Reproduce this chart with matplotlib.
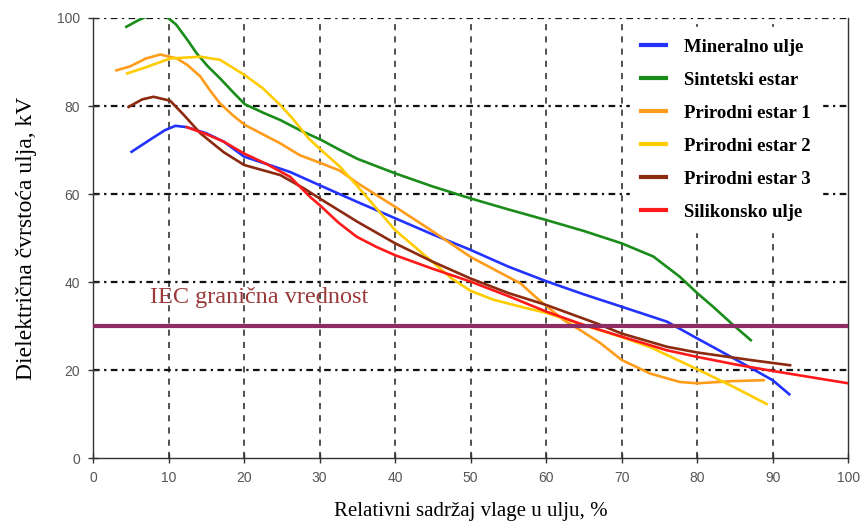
import matplotlib
matplotlib.use("Agg")
import matplotlib.pyplot as plt

# vlaga u ulju (%) i dielektricna cvrstoca (kV), ocitano sa slike
min_x = [5.1, 7.5, 9.5, 10.9, 12.4, 15, 17.3, 20, 23, 26.1, 30, 35, 40, 45, 50,
         55, 60, 65, 70, 76, 80, 84.8, 90, 92.2]
min_y = [69.6, 72.3, 74.5, 75.5, 75.2, 73.8, 71.9, 68.5, 66.8, 65, 62, 58.2, 54.5,
         50.8, 47.3, 43.5, 40.2, 37.2, 34.4, 31, 27.2, 22.7, 17.7, 14.5]

sin_x = [4.4, 6, 7.5, 9.5, 11, 12.5, 13.7, 15.2, 16.8, 18.5, 20.1, 22.5, 24.8, 27.4,
         30.2, 32.7, 35, 40, 45, 50, 55, 60, 65, 70, 74.2, 77.7, 80, 82.1, 84.8, 87.1]
sin_y = [98, 99.5, 100.6, 100.6, 98.5, 95, 92, 89, 86.3, 83.2, 80.4, 78.5, 76.8, 74.5,
         72.3, 70, 68, 64.7, 61.7, 59, 56.5, 54.1, 51.6, 48.8, 45.8, 41.2, 37.5, 34.4,
         30.2, 26.8]

pe1_x = [3.1, 4.9, 7, 8.9, 11.1, 12.5, 14.2, 15.5, 16.8, 18.5, 20.1, 24.8, 27.4, 30.2,
         32.7, 35, 40, 45, 50, 53.5, 56.6, 59, 62.3, 64.5, 67.2, 70, 73.8, 77.7, 80,
         84.8, 88.8]
pe1_y = [88.1, 89, 90.8, 91.7, 90.8, 89.3, 86.7, 83.5, 80.6, 77.9, 75.7, 71.5, 68.8, 67,
         65.3, 62.5, 57.1, 51.5, 45.7, 42.5, 39.7, 36, 31.4, 29.1, 26.1, 22.3, 19.2,
         17.3, 17, 17.5, 17.7]

pe2_x = [4.5, 7, 10.2, 14.2, 16.8, 20.1, 22.5, 24.8, 26.5, 28.5, 30.2, 32.7, 35.4, 40,
         45, 47.5, 50, 53, 56.6, 60, 65, 70, 73.8, 80, 84.8, 89.2]
pe2_y = [87.4, 88.8, 90.8, 91.2, 90.5, 87, 84, 80.2, 77, 72.7, 70, 66.2, 61, 51.8,
         44.5, 40.8, 38, 36, 34.4, 33, 30.2, 27.5, 25.2, 20.2, 16.2, 12.3]

pe3_x = [4.7, 6.5, 8, 10.2, 12, 14.2, 17.3, 20, 24.8, 27.9, 30, 35, 40, 45, 50, 55,
         60, 66.7, 70, 76, 80, 87, 92.3]
pe3_y = [79.8, 81.5, 82.1, 81.2, 78, 73.8, 69.5, 66.6, 64.3, 61.3, 59, 53.7, 48.8,
         44.6, 40.8, 37.5, 34.8, 30.6, 28.3, 25.3, 24, 22.3, 21.1]

sil_x = [12.4, 15, 17.3, 20, 23, 26.1, 28.7, 30, 32.5, 34.9, 37.5, 40, 45, 50, 55,
         60, 64.4, 70, 76, 80, 85, 90, 95, 100]
sil_y = [75.2, 73.6, 71.9, 69.2, 66.8, 63.9, 59.4, 57.5, 53.5, 50.3, 48, 46.1, 43,
         40.1, 36.8, 33.3, 30.6, 27.6, 24.5, 23, 21.3, 19.8, 18.4, 17]

iec_limit = 30
iec_label = "IEC granična vrednost"

series = [
    ("Mineralno ulje", min_x, min_y, "#2233ff"),
    ("Sintetski estar", sin_x, sin_y, "#1a8c1a"),
    ("Prirodni estar 1", pe1_x, pe1_y, "#ff9c1a"),
    ("Prirodni estar 2", pe2_x, pe2_y, "#ffcc00"),
    ("Prirodni estar 3", pe3_x, pe3_y, "#8b2a0e"),
    ("Silikonsko ulje", sil_x, sil_y, "#ff1a1a"),
]

serif = ["Liberation Serif", "DejaVu Serif"]
sans = ["Liberation Sans", "DejaVu Sans"]

fig = plt.figure(figsize=(8.62, 5.29), dpi=100)
ax = fig.add_axes([0.108, 0.134, 0.876, 0.832])

# mreza
for v in range(10, 100, 10):
    ax.axvline(v, color="#222222", lw=1.1, ls=(0, (4, 4)), zorder=1)
for v in range(20, 101, 20):
    ax.axhline(v, color="#111111", lw=1.6, ls=(0, (3, 2, 1, 2)), zorder=1)

# prag IEC
ax.axhline(iec_limit, color="#8e2d63", lw=3, zorder=4)
ax.text(7.5, 36.6, iec_label, fontsize=17.5, family=serif, color="#9b3a3a",
        va="center", ha="left", zorder=5)

for name, xs, ys, c in series:
    ax.plot(xs, ys, color=c, lw=1.9, label=name, zorder=3)

ax.set_xlim(0, 100)
ax.set_ylim(0, 100)
ax.set_xticks(range(0, 101, 10))
ax.set_yticks(range(0, 101, 20))
ax.tick_params(direction="inout", length=7, width=1, colors="#333333",
               labelcolor="#555555", labelsize=10, pad=6)
for lab in ax.get_xticklabels() + ax.get_yticklabels():
    lab.set_family(sans)
ax.spines["top"].set_visible(False)
for s in ["left", "bottom", "right"]:
    ax.spines[s].set_color("#333333")
    ax.spines[s].set_linewidth(1)

ax.set_xlabel("Relativni sadržaj vlage u ulju, %", fontsize=15, family=serif,
              labelpad=12)
ax.set_ylabel("Dielektrična čvrstoća ulja, kV", fontsize=17, family=serif,
              labelpad=14)

leg = ax.legend(loc="upper right", bbox_to_anchor=(0.978, 1.0), frameon=True,
                fancybox=False, edgecolor="white", facecolor="white", framealpha=1,
                prop={"family": serif, "size": 13.5, "weight": "bold"},
                handlelength=1.3, labelspacing=0.85, handletextpad=1.0,
                borderpad=0.6)
for h in leg.get_lines():
    h.set_linewidth(3)
leg.set_zorder(6)

fig.savefig("out.png", dpi=100)
